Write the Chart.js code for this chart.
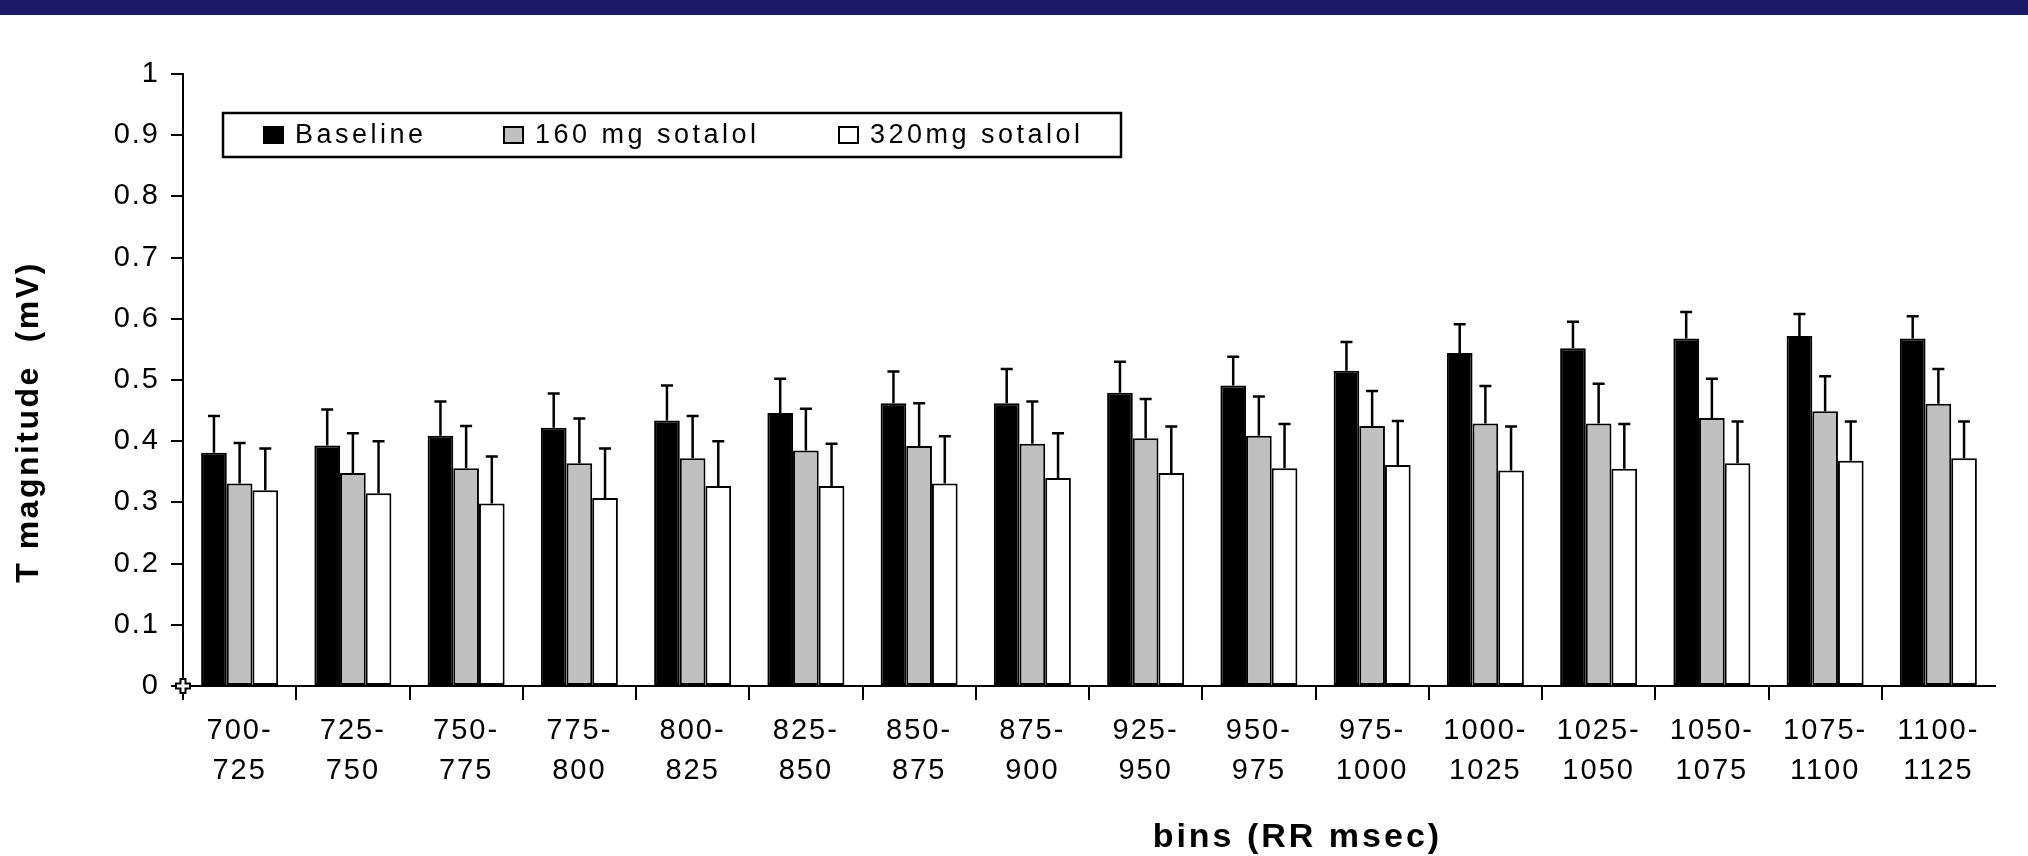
<!DOCTYPE html>
<html>
<head>
<meta charset="utf-8">
<title>T magnitude by RR bin</title>
<script src="https://cdn.jsdelivr.net/npm/chart.js@4/dist/chart.umd.min.js"></script>
<style>
  html, body { margin: 0; padding: 0; background: #ffffff; }
  #wrap { position: relative; width: 2028px; height: 856px; overflow: hidden; }
  #band { position: absolute; left: 0; top: 0; width: 2028px; height: 15px; background: #1b1968; }
  canvas { display: block; }
</style>
</head>
<body>
<div id="wrap">
  <canvas id="chart" width="2028" height="856" style="width:2028px;height:856px"></canvas>
  <div id="band"></div>
</div>
<script>
// RR-interval bins (msec), each label split over two lines
const bins = [
  ['700-', '725'], ['725-', '750'], ['750-', '775'], ['775-', '800'],
  ['800-', '825'], ['825-', '850'], ['850-', '875'], ['875-', '900'],
  ['925-', '950'], ['950-', '975'], ['975-', '1000'], ['1000-', '1025'],
  ['1025-', '1050'], ['1050-', '1075'], ['1075-', '1100'], ['1100-', '1125']
];

// Mean T magnitude (mV) per bin
const baseline = [0.381, 0.393, 0.409, 0.422, 0.434, 0.446, 0.462, 0.462,
                  0.479, 0.491, 0.515, 0.544, 0.552, 0.568, 0.572, 0.568];
const sotalol160 = [0.331, 0.348, 0.356, 0.364, 0.372, 0.385, 0.392, 0.396,
                    0.405, 0.409, 0.425, 0.429, 0.429, 0.438, 0.449, 0.461];
const sotalol320 = [0.320, 0.315, 0.298, 0.307, 0.327, 0.327, 0.331, 0.340,
                    0.348, 0.356, 0.361, 0.352, 0.355, 0.364, 0.368, 0.372];

// Upper error bar lengths (mV)
const baselineErr = [0.060, 0.059, 0.056, 0.056, 0.057, 0.056, 0.052, 0.056,
                     0.051, 0.047, 0.047, 0.047, 0.043, 0.043, 0.036, 0.036];
const sotalol160Err = [0.066, 0.065, 0.069, 0.073, 0.069, 0.068, 0.070, 0.069,
                       0.064, 0.064, 0.057, 0.061, 0.065, 0.064, 0.057, 0.057];
const sotalol320Err = [0.068, 0.085, 0.077, 0.081, 0.073, 0.069, 0.077, 0.073,
                       0.076, 0.072, 0.072, 0.072, 0.073, 0.068, 0.064, 0.060];

const yTickLabels = ['0', '0.1', '0.2', '0.3', '0.4', '0.5', '0.6', '0.7', '0.8', '0.9', '1'];

const seriesNames = ['Baseline', '160 mg sotalol', '320mg sotalol'];
const xTitle = 'bins (RR msec)';
const yTitle = 'T magnitude  (mV)';

const FONT = "'Liberation Sans', Arial, sans-serif";

// Wide glyph spacing for all axis text
const spacingPlugin = {
  id: 'spacing',
  beforeUpdate(chart) { chart.ctx.letterSpacing = '2px'; },
  beforeDraw(chart) { chart.ctx.letterSpacing = '2px'; }
};

// Upward error bars with caps
const errorBarPlugin = {
  id: 'errorBars',
  afterDatasetsDraw(chart) {
    const ctx = chart.ctx;
    const yScale = chart.scales.y;
    ctx.save();
    ctx.strokeStyle = '#000';
    ctx.lineWidth = 2.5;
    chart.data.datasets.forEach((ds, di) => {
      const meta = chart.getDatasetMeta(di);
      meta.data.forEach((bar, i) => {
        const top = yScale.getPixelForValue(ds.data[i] + ds.errors[i]);
        const x = bar.x;
        ctx.beginPath();
        ctx.moveTo(x, bar.y);
        ctx.lineTo(x, top);
        ctx.moveTo(x - 6, top);
        ctx.lineTo(x + 6, top);
        ctx.stroke();
      });
    });
    ctx.restore();
  }
};

// Boxed legend inside the plot, axis titles and the origin marker
const decorPlugin = {
  id: 'decor',
  afterDraw(chart) {
    const ctx = chart.ctx;
    const area = chart.chartArea;
    const yScale = chart.scales.y;
    ctx.save();

    // legend box
    const bx = area.left + 40, by = area.top + 39, bw = 898, bh = 44;
    ctx.fillStyle = '#fff';
    ctx.fillRect(bx, by, bw, bh);
    ctx.strokeStyle = '#000';
    ctx.lineWidth = 2.5;
    ctx.strokeRect(bx, by, bw, bh);

    const itemOffsets = [40, 280, 615];
    ctx.font = '27px ' + FONT;
    ctx.letterSpacing = '3.5px';
    ctx.textBaseline = 'middle';
    ctx.textAlign = 'left';
    chart.data.datasets.forEach((ds, di) => {
      const sx = bx + itemOffsets[di];
      const sy = by + bh / 2 - 9;
      ctx.fillStyle = ds.backgroundColor;
      ctx.fillRect(sx, sy, 21, 18);
      ctx.lineWidth = 2;
      ctx.strokeStyle = '#000';
      ctx.strokeRect(sx + 1, sy + 1, 19, 16);
      ctx.fillStyle = '#000';
      ctx.fillText(ds.label, sx + 32, by + bh / 2 + 1);
    });

    // axis titles
    ctx.fillStyle = '#000';
    ctx.textAlign = 'center';
    ctx.textBaseline = 'middle';
    ctx.font = 'bold 34px ' + FONT;
    ctx.letterSpacing = '3px';
    ctx.fillText(xTitle, area.left + 0.615 * (area.right - area.left), area.bottom + 152);

    ctx.font = 'bold 32px ' + FONT;
    ctx.letterSpacing = '2.5px';
    ctx.save();
    ctx.translate(area.left - 154, (area.top + area.bottom) / 2 + 42);
    ctx.rotate(-Math.PI / 2);
    ctx.fillText(yTitle, 0, 0);
    ctx.restore();

    // small cross marker at the origin
    const ox = area.left, oy = yScale.getPixelForValue(0);
    ctx.beginPath();
    ctx.moveTo(ox - 2.5, oy - 7); ctx.lineTo(ox + 2.5, oy - 7); ctx.lineTo(ox + 2.5, oy - 2.5);
    ctx.lineTo(ox + 7, oy - 2.5); ctx.lineTo(ox + 7, oy + 2.5); ctx.lineTo(ox + 2.5, oy + 2.5);
    ctx.lineTo(ox + 2.5, oy + 7); ctx.lineTo(ox - 2.5, oy + 7); ctx.lineTo(ox - 2.5, oy + 2.5);
    ctx.lineTo(ox - 7, oy + 2.5); ctx.lineTo(ox - 7, oy - 2.5); ctx.lineTo(ox - 2.5, oy - 2.5);
    ctx.closePath();
    ctx.fillStyle = '#fff';
    ctx.fill();
    ctx.lineWidth = 2;
    ctx.strokeStyle = '#000';
    ctx.stroke();

    ctx.restore();
  }
};

const barStyle = { borderColor: '#000', borderWidth: 2, borderSkipped: false,
                   barPercentage: 1.0, categoryPercentage: 0.68 };

new Chart(document.getElementById('chart'), {
  type: 'bar',
  data: {
    labels: bins,
    datasets: [
      Object.assign({ label: seriesNames[0], data: baseline, errors: baselineErr, backgroundColor: '#000000' }, barStyle),
      Object.assign({ label: seriesNames[1], data: sotalol160, errors: sotalol160Err, backgroundColor: '#c0c0c0' }, barStyle),
      Object.assign({ label: seriesNames[2], data: sotalol320, errors: sotalol320Err, backgroundColor: '#ffffff' }, barStyle)
    ]
  },
  options: {
    responsive: false,
    animation: false,
    devicePixelRatio: 1,
    layout: { padding: { left: 20, right: 33, top: 74, bottom: 0 } },
    plugins: { legend: { display: false }, tooltip: { enabled: false } },
    scales: {
      x: {
        grid: {
          offset: true,
          drawOnChartArea: false,
          drawTicks: true,
          tickLength: 14,
          lineWidth: 2,
          color: (c) => (c.type === 'tick' ? '#000' : 'rgba(0,0,0,0)')
        },
        border: { display: true, color: '#000', width: 2 },
        ticks: {
          color: '#000',
          padding: 11,
          maxRotation: 0,
          autoSkip: false,
          font: { family: FONT, size: 29, lineHeight: 1.38 }
        },
        afterFit(scale) { scale.height = 170; }
      },
      y: {
        min: 0,
        max: 1,
        grid: {
          drawOnChartArea: false,
          drawTicks: true,
          tickLength: 12,
          lineWidth: 2,
          color: '#000'
        },
        border: { display: true, color: '#000', width: 2 },
        ticks: {
          stepSize: 0.1,
          color: '#000',
          padding: 11,
          font: { family: FONT, size: 29 },
          callback: (v, i) => yTickLabels[i]
        },
        afterFit(scale) { scale.width = 163; }
      }
    }
  },
  plugins: [spacingPlugin, errorBarPlugin, decorPlugin]
});
</script>
</body>
</html>
